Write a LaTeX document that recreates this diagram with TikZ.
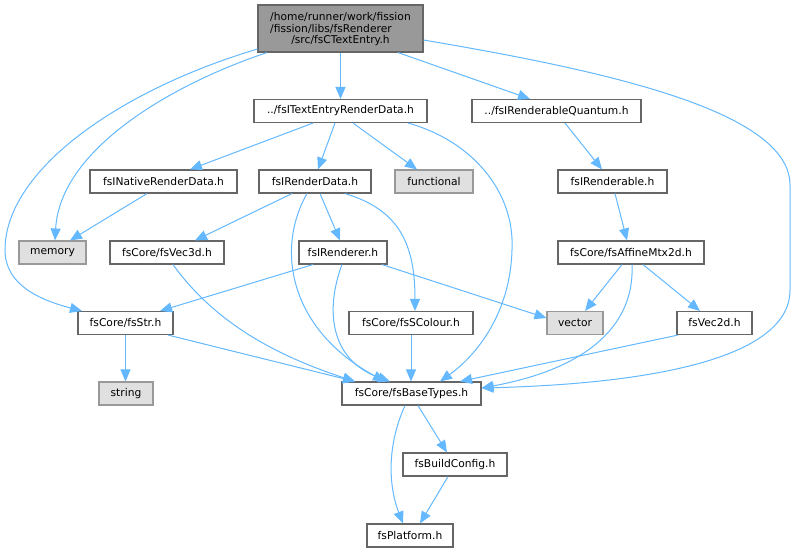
\documentclass[tikz,border=0pt]{standalone}
\usepackage{fontspec}
\setmainfont{DejaVu Sans}
\usetikzlibrary{arrows.meta}
\definecolor{edgeblue}{HTML}{63B8FF}
\definecolor{boxborder}{HTML}{666666}
\definecolor{extfill}{HTML}{E0E0E0}
\definecolor{extborder}{HTML}{999999}
\definecolor{rootfill}{HTML}{999999}
\tikzset{
  filebox/.style={draw=boxborder, fill=white, line width=1.1pt, inner sep=0pt,
    minimum height=23pt, font=\fontsize{10.7}{13.5}\selectfont},
  extbox/.style={filebox, draw=extborder, fill=extfill},
  rootbox/.style={filebox, fill=rootfill, align=center},
  dep/.style={draw=edgeblue, line width=1pt, -{Triangle[length=12pt,width=10pt]}}
}
\begin{document}
\begin{tikzpicture}[x=1pt,y=-1pt]
\useasboundingbox (0,0) rectangle (796,552);

% nodes
\node[rootbox, minimum width=165pt, minimum height=47pt] (root) at (340.5,28.5)
  {\begin{tabular}{@{}l@{}}/home/runner/work/fission\\[-1.5pt]/fission/libs/fsRenderer\end{tabular}\\[-1.5pt]/src/fsCTextEntry.h};
\node[filebox, minimum width=173pt] (terd) at (340.5,111) {../fsITextEntryRenderData.h};
\node[filebox, minimum width=169pt] (rq) at (556.5,111) {../fsIRenderableQuantum.h};
\node[filebox, minimum width=147pt] (nrd) at (163.5,181.5) {fsINativeRenderData.h};
\node[filebox, minimum width=112pt] (rd) at (315,181.5) {fsIRenderData.h};
\node[extbox, minimum width=78pt] (functional) at (434,181.5) {functional};
\node[filebox, minimum width=109pt] (renderable) at (612.5,181.5) {fsIRenderable.h};
\node[extbox, minimum width=67pt] (memory) at (52.5,252.5) {memory};
\node[filebox, minimum width=114pt] (vec3d) at (167,252.5) {fsCore/fsVec3d.h};
\node[filebox, minimum width=88pt] (renderer) at (343,252.5) {fsIRenderer.h};
\node[filebox, minimum width=146pt] (affine) at (631,252.5) {fsCore/fsAffineMtx2d.h};
\node[filebox, minimum width=95pt] (fsstr) at (125.5,323) {fsCore/fsStr.h};
\node[filebox, minimum width=124pt] (scolour) at (411,323) {fsCore/fsSColour.h};
\node[extbox, minimum width=56pt] (vector) at (575,323) {vector};
\node[filebox, minimum width=75pt] (vec2d) at (714.5,323) {fsVec2d.h};
\node[extbox, minimum width=54pt] (string) at (126,393.5) {string};
\node[filebox, minimum width=139pt] (basetypes) at (411.5,393.5) {fsCore/fsBaseTypes.h};
\node[filebox, minimum width=104pt] (buildconfig) at (455,464.5) {fsBuildConfig.h};
\node[filebox, minimum width=86pt] (platform) at (410,535.5) {fsPlatform.h};

\coordinate (leftbend) at (5,250);
\coordinate (rightbendA) at (790,185);
\coordinate (rightbendB) at (790,290);
\coordinate (midbend) at (512,250);

% connectors
\draw[dep] (root.south) -- (terd.north);
\draw[dep] ([xshift=57.5pt]root.south) -- ([xshift=-26.5pt]rq.north);
\draw[dep] ([xshift=-73.5pt]root.south) .. controls (170,85) and (60,150) .. ([xshift=2.5pt]memory.north);
\draw[dep] ([yshift=-20.5pt]root.west) .. controls (120,90) and (5,170) .. (leftbend)
  .. controls (5,285) and (40,300) .. ([xshift=-43.5pt]fsstr.north);
\draw[dep] ([yshift=-11.5pt]root.east) .. controls (600,70) and (790,110) .. (rightbendA)
  -- (rightbendB) .. controls (790,370) and (600,385) .. ([yshift=5.5pt]basetypes.east);

\draw[dep] ([xshift=-27.5pt]terd.south) -- ([xshift=26.5pt]nrd.north);
\draw[dep] ([xshift=-5.5pt]terd.south) -- ([xshift=3pt]rd.north);
\draw[dep] ([xshift=12.5pt]terd.south) -- ([xshift=-17pt]functional.north);
\draw[dep] ([xshift=67.5pt]terd.south) .. controls (470,140) and (515,190) .. (midbend)
  .. controls (510,320) and (470,360) .. ([xshift=28.5pt]basetypes.north);

\draw[dep] ([xshift=8.5pt]rq.south) -- ([xshift=-10.5pt]renderable.north);
\draw[dep] ([xshift=2.5pt]renderable.south) -- ([xshift=-4pt]affine.north);

\draw[dep] ([xshift=-16.5pt]nrd.south) -- ([xshift=17.5pt]memory.north);

\draw[dep] ([xshift=-23pt]rd.south) -- ([xshift=28pt]vec3d.north);
\draw[dep] ([xshift=5pt]rd.south) -- ([xshift=-3pt]renderer.north);
\draw[dep] ([xshift=30pt]rd.south) .. controls (400,210) and (415,245) .. ([xshift=4pt]scolour.north);
\draw[dep] ([xshift=-8pt]rd.south) .. controls (275,250) and (290,330) .. ([xshift=-26.5pt]basetypes.north);

\draw[dep] ([xshift=-30pt]renderer.south) -- ([xshift=34.5pt]fsstr.north);
\draw[dep] ([xshift=39pt]renderer.south) -- ([yshift=5pt]vector.west);
\draw[dep] ([xshift=-1pt]renderer.south) .. controls (325,310) and (330,360) .. ([xshift=-21.5pt]basetypes.north);

\draw[dep] ([xshift=6pt]vec3d.south) .. controls (220,330) and (290,360) .. ([xshift=-56.5pt]basetypes.north);

\draw[dep] ([xshift=-9pt]affine.south) -- ([xshift=10pt]vector.north);
\draw[dep] ([xshift=12pt]affine.south) -- ([xshift=-14.5pt]vec2d.north);
\draw[dep] ([xshift=1pt]affine.south) .. controls (635,330) and (580,370) .. ([yshift=5.5pt]basetypes.east);

\draw[dep] ([xshift=-36.5pt]vec2d.south) -- ([xshift=48.5pt]basetypes.north);

\draw[dep] (fsstr.south) -- (fsstr.south |- string.north);
\draw[dep] ([xshift=42.5pt]fsstr.south) -- ([xshift=-56.5pt]basetypes.north);

\draw[dep] (scolour.south) -- (scolour.south |- basetypes.north);

\draw[dep] ([xshift=6.5pt]basetypes.south) -- ([xshift=-8pt]buildconfig.north);
\draw[dep] ([xshift=-6.5pt]basetypes.south) .. controls (385,450) and (390,490) .. ([xshift=-7pt]platform.north);
\draw[dep] ([xshift=-7pt]buildconfig.south) -- ([xshift=10pt]platform.north);
\end{tikzpicture}
\end{document}
